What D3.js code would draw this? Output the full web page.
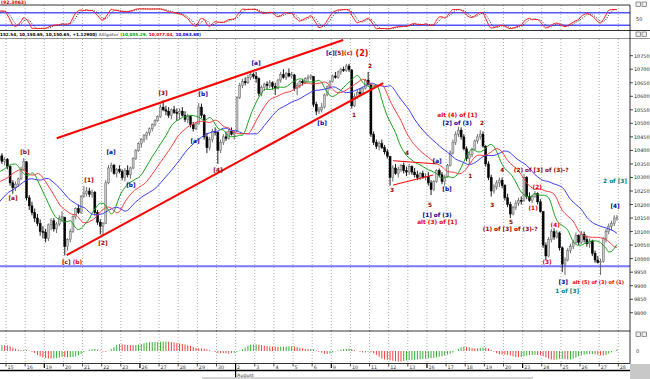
<!DOCTYPE html>
<html><head><meta charset="utf-8">
<script src="https://cdn.jsdelivr.net/npm/d3@7"></script>
<style>body{margin:0;background:#fff;overflow:hidden}svg{display:block;font-family:"DejaVu Sans",sans-serif}</style>
</head><body><svg id="c" width="650" height="379"></svg>
<script>
// ---------- DATA ----------
const dayLabels = ["15","16","19","20","21","22","23","26","27","28","29","30","2","3","4","5","6","9","10","11","12","13","16","17","18","19","20","23","24","25","26","27","28"];
const mondayIdx = [2,7,12,17,22,27];
const monthStartIdx = 12;
const monthName = "August";
const priceTicks = d3.range(9800, 10751, 50);
const supportLevel = 9972;

// hourly [open, high, low, close]; warm-up sessions Jul 8 - Jul 14 (mostly left of the view)
const warmupBars = [
 [10018,10080,10010,10070],[10070,10110,10060,10100],[10100,10120,10085,10095],[10095,10130,10090,10125],[10125,10145,10110,10120],[10120,10140,10105,10130],[10130,10150,10120,10139],
 [10139,10150,10110,10125],[10125,10160,10120,10155],[10155,10170,10140,10160],[10160,10175,10150,10170],[10170,10185,10160,10175],[10175,10195,10170,10190],[10190,10200,10180,10198],
 [10198,10230,10190,10220],[10220,10240,10200,10210],[10210,10225,10180,10190],[10190,10200,10160,10175],[10175,10200,10170,10195],[10195,10215,10185,10205],[10205,10220,10195,10216],
 [10216,10320,10216,10310],[10310,10350,10300,10340],[10340,10375,10330,10360],[10360,10390,10350,10370],[10370,10385,10345,10355],[10355,10375,10340,10370],[10370,10380,10355,10364],
 [10364,10370,10300,10315],[10315,10340,10300,10330],[10330,10360,10320,10350],[10350,10375,10340,10365],[10365,10395,10355,10380],[10380,10390,10350,10360],[10360,10375,10345,10367]
];
// hourly bars Jul 15 - Aug 27, 7 per session
const sessionBars = [
 /*Jul15*/[10366,10372,10330,10340],[10340,10345,10270,10280],[10280,10290,10240,10262],[10262,10285,10250,10275],[10275,10300,10265,10295],[10295,10340,10290,10330],[10330,10372,10325,10360],
 /*Jul16*/[10358,10360,10215,10225],[10225,10235,10180,10195],[10195,10210,10160,10170],[10170,10185,10135,10150],[10150,10165,10120,10130],[10130,10145,10085,10100],[10100,10120,10075,10098],
 /*Jul19*/[10098,10110,10060,10075],[10075,10130,10065,10125],[10125,10150,10105,10140],[10140,10150,10100,10110],[10110,10135,10095,10128],[10128,10160,10120,10150],[10150,10175,10135,10155],
 /*Jul20*/[10152,10155,10012,10045],[10045,10075,10030,10070],[10070,10110,10060,10100],[10100,10160,10095,10155],[10155,10190,10145,10185],[10185,10200,10165,10170],[10170,10235,10165,10230],
 /*Jul21*/[10230,10268,10225,10240],[10240,10265,10230,10250],[10250,10262,10228,10238],[10238,10255,10225,10245],[10245,10250,10160,10170],[10170,10180,10125,10135],[10135,10145,10090,10120],
 /*Jul22*/[10120,10135,10085,10130],[10130,10290,10128,10280],[10280,10345,10275,10335],[10335,10355,10320,10345],[10345,10350,10310,10315],[10315,10335,10300,10330],[10330,10345,10315,10322],
 /*Jul23*/[10322,10330,10290,10300],[10300,10335,10285,10325],[10325,10345,10300,10310],[10310,10340,10295,10335],[10335,10375,10330,10370],[10370,10405,10365,10400],[10400,10430,10395,10425],
 /*Jul26*/[10425,10445,10410,10440],[10440,10460,10430,10455],[10455,10470,10440,10465],[10465,10485,10455,10480],[10480,10500,10470,10495],[10495,10515,10488,10510],[10510,10530,10505,10525],
 /*Jul27*/[10525,10570,10520,10560],[10560,10585,10545,10550],[10550,10565,10530,10545],[10545,10560,10520,10530],[10530,10555,10515,10550],[10550,10565,10535,10540],[10540,10555,10510,10537],
 /*Jul28*/[10537,10555,10515,10545],[10545,10560,10525,10530],[10530,10545,10505,10515],[10515,10535,10500,10525],[10525,10530,10485,10495],[10495,10505,10470,10480],[10480,10505,10475,10498],
 /*Jul29*/[10498,10575,10495,10560],[10560,10573,10520,10530],[10530,10535,10440,10450],[10450,10465,10390,10410],[10410,10450,10400,10440],[10440,10480,10430,10470],[10470,10485,10455,10467],
 /*Jul30*/[10467,10470,10350,10400],[10400,10440,10390,10430],[10430,10460,10420,10450],[10450,10470,10435,10445],[10445,10480,10440,10470],[10470,10485,10455,10460],[10460,10475,10440,10466],
 /*Aug02*/[10470,10600,10468,10595],[10595,10650,10590,10640],[10640,10665,10630,10655],[10655,10670,10640,10650],[10650,10680,10645,10670],[10670,10690,10660,10680],[10680,10688,10665,10674],
 /*Aug03*/[10674,10690,10650,10665],[10665,10670,10600,10610],[10610,10640,10600,10632],[10632,10650,10620,10645],[10645,10655,10625,10640],[10640,10660,10630,10650],[10650,10655,10625,10636],
 /*Aug04*/[10636,10650,10605,10630],[10630,10665,10625,10660],[10660,10690,10650,10680],[10680,10700,10665,10670],[10670,10690,10660,10685],[10685,10703,10670,10675],[10675,10690,10665,10680],
 /*Aug05*/[10679,10683,10620,10630],[10630,10650,10604,10640],[10640,10660,10630,10655],[10655,10665,10640,10650],[10650,10670,10645,10665],[10665,10680,10655,10670],[10670,10682,10660,10675],
 /*Aug06*/[10673,10674,10560,10570],[10570,10580,10530,10545],[10545,10560,10535,10550],[10550,10575,10540,10560],[10560,10610,10555,10605],[10605,10640,10600,10635],[10635,10660,10625,10653],
 /*Aug09*/[10654,10680,10650,10675],[10675,10690,10665,10670],[10670,10695,10665,10690],[10690,10705,10680,10700],[10700,10710,10690,10695],[10695,10720,10690,10712],[10712,10720,10690,10699],
 /*Aug10*/[10697,10700,10555,10565],[10565,10610,10560,10600],[10600,10625,10590,10615],[10615,10630,10600,10610],[10610,10635,10605,10630],[10630,10665,10625,10660],[10660,10690,10640,10644],
 /*Aug11*/[10642,10645,10450,10460],[10460,10470,10420,10430],[10430,10440,10405,10415],[10415,10435,10400,10425],[10425,10440,10405,10410],[10410,10420,10385,10395],[10395,10405,10370,10379],
 /*Aug12*/[10377,10380,10270,10300],[10300,10345,10285,10335],[10335,10350,10310,10315],[10315,10340,10300,10330],[10330,10350,10320,10345],[10345,10355,10315,10325],[10325,10340,10305,10320],
 /*Aug13*/[10320,10350,10310,10340],[10340,10345,10310,10320],[10320,10335,10300,10310],[10310,10325,10290,10300],[10300,10320,10290,10315],[10315,10325,10295,10300],[10300,10315,10290,10303],
 /*Aug16*/[10303,10320,10270,10280],[10280,10290,10235,10255],[10255,10290,10250,10285],[10285,10330,10280,10325],[10325,10333,10300,10310],[10310,10320,10275,10285],[10285,10310,10270,10302],
 /*Aug17*/[10303,10350,10300,10345],[10345,10400,10340,10390],[10390,10440,10385,10430],[10430,10470,10420,10460],[10460,10488,10450,10475],[10475,10485,10440,10450],[10450,10460,10400,10406],
 /*Aug18*/[10406,10415,10360,10370],[10370,10395,10350,10385],[10385,10410,10375,10405],[10405,10440,10400,10435],[10435,10460,10425,10450],[10450,10475,10440,10460],[10460,10470,10410,10416],
 /*Aug19*/[10415,10420,10340,10350],[10350,10360,10290,10300],[10300,10310,10230,10250],[10250,10275,10240,10265],[10265,10290,10255,10280],[10280,10300,10265,10290],[10290,10300,10260,10271],
 /*Aug20*/[10271,10275,10215,10225],[10225,10240,10190,10200],[10200,10210,10150,10165],[10165,10195,10160,10190],[10190,10215,10180,10205],[10205,10225,10195,10215],[10215,10230,10200,10214],
 /*Aug23*/[10215,10312,10210,10300],[10300,10305,10220,10230],[10230,10245,10210,10215],[10215,10235,10205,10230],[10230,10250,10225,10240],[10240,10245,10200,10210],[10210,10220,10170,10174],
 /*Aug24*/[10174,10175,10040,10050],[10050,10060,9995,10010],[10010,10080,10005,10070],[10070,10110,10060,10100],[10100,10112,10070,10080],[10080,10105,10075,10095],[10095,10100,10030,10040],
 /*Aug25*/[10040,10045,9950,9980],[9980,10005,9940,9995],[9995,10040,9990,10030],[10030,10055,10020,10045],[10045,10070,10035,10060],[10060,10097,10055,10085],[10085,10090,10050,10060],
 /*Aug26*/[10060,10102,10055,10090],[10090,10100,10060,10070],[10070,10085,10045,10055],[10055,10075,10040,10065],[10065,10070,10010,10020],[10020,10030,9985,9995],[9995,10010,9982,9986],
 /*Aug27*/[9986,10000,9940,9990],[9990,10080,9985,10075],[10075,10110,10060,10100],[10100,10130,10090,10120],[10120,10140,10105,10130],[10130,10160,10120,10150],[10150,10161,10140,10151]
];
const barsPerDay = 7;

// trend lines: [dayPosition, price]
const upperChannel = [[2.65,10445],[17.62,10808]];
const lowerChannel = [[3.17,10013],[19.71,10649]];
const triangleTop = [[20.23,10362],[22.51,10350]];
const triangleBottom = [[20.23,10272],[22.32,10309]];

const DR="#990000", RD="#e80000", BL="#000099", TL="#008080";
const labels = [
 {d:0.37,p:10224,s:[["[a]",DR]]},
 {d:0.99,p:10394,s:[["[b]",DR]]},
 {d:3.45,p:9988,s:[["[c]",DR],[" (b)",RD]]},
 {d:4.34,p:10291,s:[["[1]",DR]]},
 {d:5.07,p:10058,s:[["[2]",DR]]},
 {d:5.49,p:10394,s:[["[a]",BL]]},
 {d:6.53,p:10272,s:[["[b]",BL]]},
 {d:8.21,p:10612,s:[["[3]",DR]]},
 {d:9.88,p:10435,s:[["[a]",BL]]},
 {d:10.30,p:10608,s:[["[b]",BL]]},
 {d:11.08,p:10328,s:[["[4]",DR]]},
 {d:13.07,p:10723,s:[["[a]",BL]]},
 {d:16.52,p:10501,s:[["[b]",BL]]},
 {d:17.83,p:10760,s:[["[c]",BL],["[5]",DR],["(c)",RD],[" (2)",RD,8]]},
 {d:18.19,p:10531,s:[["1",DR]]},
 {d:19.03,p:10712,s:[["2",DR]]},
 {d:20.18,p:10254,s:[["3",DR]]},
 {d:20.96,p:10390,s:[["4",DR]]},
 {d:22.16,p:10198,s:[["5",DR]]},
 {d:22.53,p:10361,s:[["[a]",BL]]},
 {d:23.05,p:10257,s:[["[b]",BL]]},
 {d:22.53,p:10161,s:[["[1] of (3)",BL]]},
 {d:22.53,p:10135,s:[["alt (3) of [1]",RD]]},
 {d:23.58,p:10531,s:[["alt (4) of [1]",RD]]},
 {d:23.58,p:10501,s:[["[2] of (3)",BL]]},
 {d:24.88,p:10501,s:[["2",DR]]},
 {d:24.26,p:10305,s:[["1",DR]]},
 {d:25.41,p:10198,s:[["3",DR]]},
 {d:25.93,p:10328,s:[["4",DR]]},
 {d:26.40,p:10135,s:[["5",DR]]},
 {d:26.35,p:10109,s:[["(1) of [3] of (3)-?",DR]]},
 {d:27.97,p:10328,s:[["(2) of [3] of (3)-?",DR]]},
 {d:27.55,p:10187,s:[["(1)",RD]]},
 {d:27.76,p:10265,s:[["(2)",RD]]},
 {d:28.28,p:9988,s:[["(3)",RD]]},
 {d:28.70,p:10124,s:[["(4)",RD]]},
 {d:29.12,p:9914,s:[["[3]",BL]]},
 {d:29.33,p:9880,s:[["1 of [3]",TL]]},
 {d:30.95,p:9914,s:[["alt (5) of (3) of (1)",RD,5]]},
 {d:31.83,p:10287,s:[["2 of [3]",TL]]},
 {d:31.83,p:10194,s:[["[4]",BL]]}
];
const headerValue = "(92.3063)";
const statusParts = [["152.54, 10,150.65, 10,150.65, +1.12900) ","#000"],["Alligator ","#8a8a8a"],["(10,055.29, ","#00a000"],["10,077.04, ","#e00000"],["10,063.68)","#0000e0"]];

// ---------- LAYOUT ----------
const svg = d3.select("#c");
const R = 630;
const st = {top:5, bot:30.5}, mp = {top:39, bot:331}, ap = {top:331, bot:363.5};
const xs = d3.scaleLinear().domain([0, dayLabels.length-1]).range([6, 618.3]);
const yM = d3.scaleLinear().domain([9800,10750]).range([312.77,55.7]);
const yS = d3.scaleLinear().domain([0,100]).range([29.5,8.5]);

const all = warmupBars.concat(sessionBars);
const off = warmupBars.length;
const bx = g => xs((g - off + 0.5)/barsPerDay);
const visible = g => bx(g) > -3 && bx(g) < R;

const defs = svg.append("defs");
function clip(id,y0,y1){defs.append("clipPath").attr("id",id).append("rect").attr("x",0).attr("y",y0).attr("width",R).attr("height",y1-y0);}
clip("cs",st.top,st.bot); clip("cm",mp.top,mp.bot); clip("ca",ap.top,ap.bot);

// ---------- INDICATORS ----------
const med = all.map(b => (b[1]+b[2])/2);
function smma(v,n){const o=new Array(v.length).fill(null);let s=0;for(let i=0;i<v.length;i++){if(i<n-1){s+=v[i];}else if(i===n-1){s+=v[i];o[i]=s/n;}else o[i]=(o[i-1]*(n-1)+v[i])/n;}return o;}
function sma(v,n){return v.map((_,i)=> i<n-1||v[i]==null?null:(()=>{let s=0;for(let k=i-n+1;k<=i;k++){if(v[k]==null)return null;s+=v[k];}return s/n;})());}
function shift(v,k){return v.map((_,i)=> i-k>=0 ? v[i-k] : null);}
const jaw = shift(smma(med,13),8), teeth = shift(smma(med,8),5), lips = shift(smma(med,5),3);
const rawK = all.map((b,i)=>{ if(i<13) return null; let hh=-1e9,ll=1e9; for(let k=i-13;k<=i;k++){hh=Math.max(hh,all[k][1]);ll=Math.min(ll,all[k][2]);} return (b[3]-ll)/(hh-ll)*100;});
const slowK = sma(rawK,3), slowD = sma(slowK,3);
const s5 = sma(med,5), s34 = sma(med,34);
const ao = med.map((_,i)=> s5[i]!=null && s34[i]!=null ? s5[i]-s34[i] : null);

// ---------- GRID ----------
function vgrid(y0,y1){svg.append("g").selectAll("line").data(dayLabels).join("line")
 .attr("x1",(d,i)=>xs(i)).attr("x2",(d,i)=>xs(i)).attr("y1",y0).attr("y2",y1)
 .attr("stroke","#9a9a9a").attr("stroke-width",0.8).attr("stroke-dasharray","1,2");}
vgrid(st.top,st.bot); vgrid(mp.top,mp.bot); vgrid(ap.top,ap.bot);

// ---------- TOP STOCHASTIC ----------
svg.append("text").attr("x",1).attr("y",4.3).attr("font-size",4.6).attr("font-weight","bold").attr("fill","#e00000").text(headerValue);
[80,20].forEach(v=>svg.append("line").attr("x1",0).attr("x2",R).attr("y1",yS(v)).attr("y2",yS(v)).attr("stroke","#5555ff").attr("stroke-width",1.4));
const gS = svg.append("g").attr("clip-path","url(#cs)");
const idx = d3.range(all.length).filter(g=>bx(g)>-8 && bx(g)<R+2);
const lineS = arr => d3.line().defined(g=>arr[g]!=null).x(g=>bx(g)).y(g=>yS(arr[g])).curve(d3.curveMonotoneX);
gS.append("path").attr("d",lineS(slowD)(idx)).attr("fill","none").attr("stroke","#222").attr("stroke-width",0.9).attr("stroke-dasharray","1,1.3");
gS.append("path").attr("d",lineS(slowK)(idx)).attr("fill","none").attr("stroke","#ff1a1a").attr("stroke-width",1);
svg.append("text").attr("x",636).attr("y",19).attr("dominant-baseline","central").attr("font-size",5).attr("fill","#333").text("50");

// borders
svg.append("line").attr("x1",0).attr("x2",R).attr("y1",st.top).attr("y2",st.top).attr("stroke","#000").attr("stroke-width",0.8);
svg.append("line").attr("x1",0).attr("x2",650).attr("y1",st.bot).attr("y2",st.bot).attr("stroke","#000").attr("stroke-width",0.8);
svg.append("line").attr("x1",0).attr("x2",650).attr("y1",mp.top-0.5).attr("y2",mp.top-0.5).attr("stroke","#777").attr("stroke-width",0.8);
svg.append("line").attr("x1",0).attr("x2",R).attr("y1",mp.bot).attr("y2",mp.bot).attr("stroke","#000").attr("stroke-width",0.8);

// status line
const stt = svg.append("text").attr("x",0).attr("y",36.4).attr("font-size",4.2).attr("font-weight","bold");
statusParts.forEach(p=>stt.append("tspan").attr("fill",p[1]).text(p[0]));

// ---------- MAIN PANEL ----------
const gM = svg.append("g").attr("clip-path","url(#cm)");
gM.append("line").attr("x1",0).attr("x2",R).attr("y1",yM(supportLevel)).attr("y2",yM(supportLevel)).attr("stroke","#7777ff").attr("stroke-width",2);
const vis = d3.range(all.length).filter(visible);
// candles
const cg = gM.append("g");
cg.selectAll("line").data(vis).join("line")
 .attr("x1",g=>bx(g)).attr("x2",g=>bx(g)).attr("y1",g=>yM(all[g][1])).attr("y2",g=>yM(all[g][2]))
 .attr("stroke",g=>all[g][3]>=all[g][0]?"#5a5a5a":"#000").attr("stroke-width",0.9);
cg.selectAll("rect").data(vis).join("rect")
 .attr("x",g=>bx(g)-1).attr("width",2)
 .attr("y",g=>yM(Math.max(all[g][0],all[g][3])))
 .attr("height",g=>Math.max(0.8,Math.abs(yM(all[g][0])-yM(all[g][3]))))
 .attr("fill",g=>all[g][3]>=all[g][0]?"#c8c8c8":"#000")
 .attr("stroke",g=>all[g][3]>=all[g][0]?"#666":"#000").attr("stroke-width",0.5);
// alligator
const lineM = arr => d3.line().defined(g=>arr[g]!=null).x(g=>bx(g)).y(g=>yM(arr[g])).curve(d3.curveMonotoneX);
const idxM = d3.range(all.length).filter(g=>bx(g)>-8 && bx(g)<R);
gM.append("path").attr("d",lineM(jaw)(idxM)).attr("fill","none").attr("stroke","#3a3aff").attr("stroke-width",1);
gM.append("path").attr("d",lineM(teeth)(idxM)).attr("fill","none").attr("stroke","#ff3a3a").attr("stroke-width",1);
gM.append("path").attr("d",lineM(lips)(idxM)).attr("fill","none").attr("stroke","#1aa01a").attr("stroke-width",1);
// trend lines
const tl = d3.line().x(d=>xs(d[0])).y(d=>yM(d[1]));
gM.append("path").attr("d",tl(upperChannel)).attr("stroke","#ff0000").attr("stroke-width",2).attr("fill","none");
gM.append("path").attr("d",tl(lowerChannel)).attr("stroke","#ff0000").attr("stroke-width",2).attr("fill","none");
gM.append("path").attr("d",tl(triangleTop)).attr("stroke","#ff0000").attr("stroke-width",1).attr("fill","none");
gM.append("path").attr("d",tl(triangleBottom)).attr("stroke","#ff0000").attr("stroke-width",1).attr("fill","none");
// labels
labels.forEach(l=>{
  const t = gM.append("text").attr("x",xs(l.d)).attr("y",yM(l.p)).attr("text-anchor","middle")
   .attr("dominant-baseline","central").attr("font-size",5.8).attr("font-weight","bold");
  l.s.forEach(s=>{const ts=t.append("tspan").attr("fill",s[1]).text(s[0]); if(s[2]) ts.attr("font-size",s[2]);});
});

// right axis
svg.append("line").attr("x1",R).attr("x2",R).attr("y1",st.top).attr("y2",ap.bot).attr("stroke","#000").attr("stroke-width",0.8);
const ra = svg.append("g");
ra.selectAll("line").data(priceTicks).join("line").attr("x1",R).attr("x2",R+3).attr("y1",d=>yM(d)).attr("y2",d=>yM(d)).attr("stroke","#000").attr("stroke-width",0.7);
ra.selectAll("text").data(priceTicks).join("text").attr("x",R+4).attr("y",d=>yM(d)).attr("dominant-baseline","central")
 .attr("font-size",4.9).attr("fill","#222").text(d=>d);

// ---------- BOTTOM AO ----------
const aoVis = vis.filter(g=>ao[g]!=null);
const ext = d3.max(aoVis, g=>Math.abs(ao[g]));
const yA = d3.scaleLinear().domain([-ext,ext]).range([361.5,340.5]);
const gA = svg.append("g").attr("clip-path","url(#ca)");
gA.selectAll("line").data(aoVis).join("line")
 .attr("x1",g=>bx(g)).attr("x2",g=>bx(g)).attr("y1",yA(0)).attr("y2",g=>yA(ao[g]))
 .attr("stroke",g=> (ao[g-1]!=null && ao[g]<ao[g-1]) ? "#f04040" : "#30b030").attr("stroke-width",1);
svg.append("text").attr("x",636).attr("y",yA(0)).attr("dominant-baseline","central").attr("font-size",5).attr("fill","#333").text("0");

// ---------- X AXIS ----------
svg.append("line").attr("x1",0).attr("x2",R).attr("y1",ap.bot).attr("y2",ap.bot).attr("stroke","#000").attr("stroke-width",0.8);
const xa = svg.append("g");
xa.selectAll("line").data(dayLabels).join("line")
 .attr("x1",(d,i)=>xs(i)).attr("x2",(d,i)=>xs(i)).attr("y1",ap.bot).attr("y2",(d,i)=> i===monthStartIdx?378:(mondayIdx.includes(i)?368:366.5))
 .attr("stroke","#000").attr("stroke-width",(d,i)=>mondayIdx.includes(i)?1.2:0.7);
xa.selectAll("text").data(dayLabels).join("text")
 .attr("x",(d,i)=>xs(i)+1.5).attr("y",369).attr("font-size",4.8).attr("fill","#333").text(d=>d);
svg.append("line").attr("x1",0).attr("x2",R).attr("y1",370.5).attr("y2",370.5).attr("stroke","#000").attr("stroke-width",1.4);
svg.append("text").attr("x",xs(monthStartIdx)+1.5).attr("y",376.5).attr("font-size",4.8).attr("fill","#333").text(monthName);
svg.append("line").attr("x1",202).attr("x2",533).attr("y1",378).attr("y2",378).attr("stroke","#c4c4c4").attr("stroke-width",1.6);
svg.append("rect").attr("x",R).attr("y",364).attr("width",20).attr("height",15).attr("fill","#c8c8c8");

// window icons
[[2],[32],[332]].forEach(([y])=>{[636,642].forEach(x=>svg.append("rect").attr("x",x).attr("y",y).attr("width",4.5).attr("height",4.5).attr("fill","#eee").attr("stroke","#555").attr("stroke-width",0.6));});
</script></body></html>
